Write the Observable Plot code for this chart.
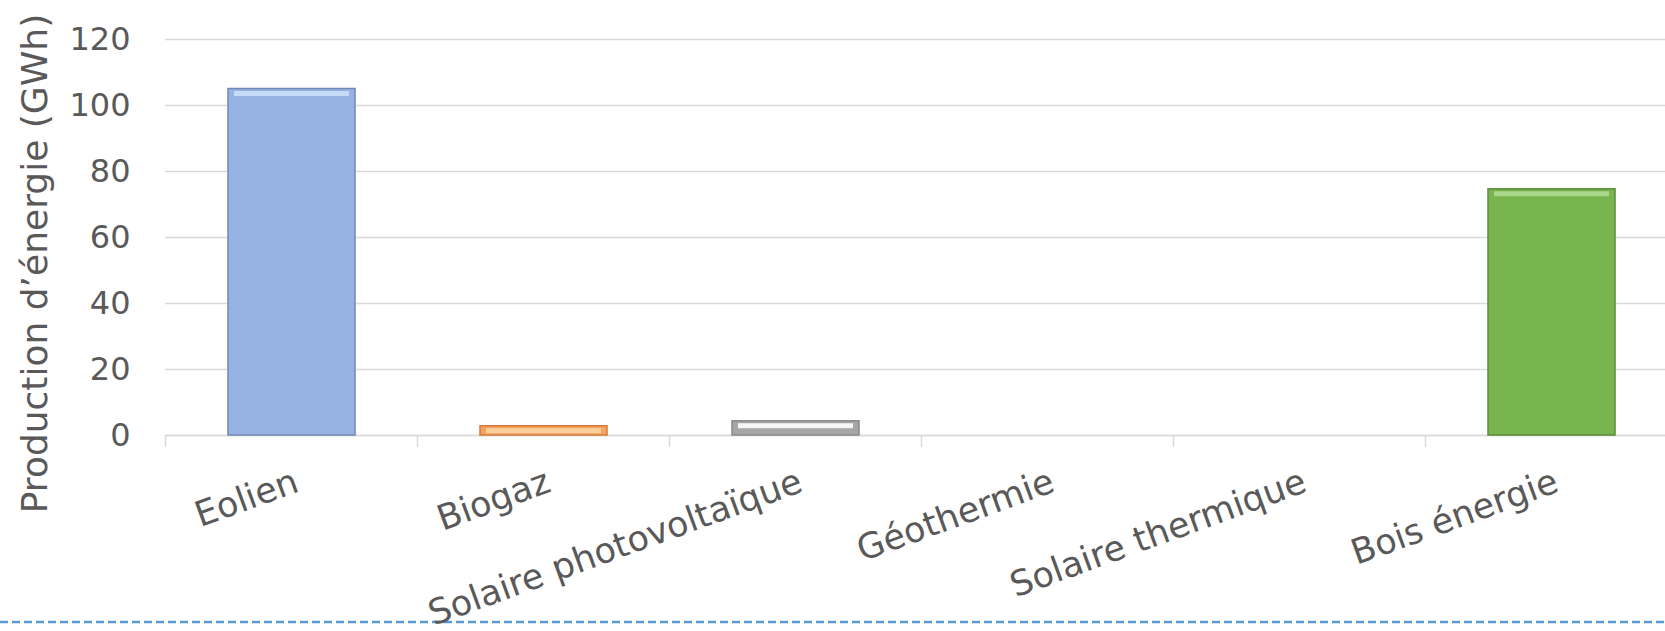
<!DOCTYPE html>
<html>
<head>
<meta charset="utf-8">
<script src="https://cdn.jsdelivr.net/npm/d3@7"></script>
<script src="https://cdn.jsdelivr.net/npm/@observablehq/plot@0.6"></script>
<style>
  html, body { margin: 0; padding: 0; background: #ffffff; }
  #chart svg { display: block; }
</style>
</head>
<body>
<div id="chart"></div>
<script>
// ---- Data ----
const categories = ["Eolien", "Biogaz", "Solaire photovoltaïque", "Géothermie", "Solaire thermique", "Bois énergie"];
const values = [105, 2.8, 4.3, 0, 0, 74.6];
const yTicks = [0, 20, 40, 60, 80, 100, 120];
const yLabel = "Production d’énergie (GWh)";

// ---- Palette (per category) ----
const fillPalette = ["#97b3e6", "#f4a45f", "#a6a6a6", "#ffc000", "#5b9bd5", "#79b54f"];
const strokePalette = ["#7088b4", "#d57a3c", "#8a8a8a", "#c09000", "#4a7fb0", "#5a8a3a"];
const highlightPalette = ["#c5dbf8", "#fbd09b", "#f7f7f7", "#ffe08a", "#a9cdf0", "#aad88a"];

const data = categories.map((c, i) => ({category: c, value: values[i]}));
const idx = d => categories.indexOf(d.category);

// band boundary ticks + decorative dashed line
function bandTicks(index, scales, values, dims) {
  const xs = scales.x, ys = scales.y;
  const g = d3.create("svg:g");
  const step = xs.step ? xs.step() : (dims.width - dims.marginLeft - dims.marginRight) / categories.length;
  const bw = xs.bandwidth ? xs.bandwidth() : step / 2;
  const pad = (step - bw) / 2;
  const y0 = ys(0);
  categories.forEach(c => {
    const bx = xs(c) - pad;
    g.append("line").attr("x1", bx).attr("x2", bx).attr("y1", y0).attr("y2", y0 + 12)
      .attr("stroke", "#d9d9d9").attr("stroke-width", 1.5);
  });
  g.append("line").attr("x1", 0).attr("x2", dims.width)
    .attr("y1", dims.height - 9).attr("y2", dims.height - 9)
    .attr("stroke", "#5b9bd5").attr("stroke-width", 2.5).attr("stroke-dasharray", "8,4");
  return g.node();
}

const chart = Plot.plot({
  width: 1665,
  height: 631,
  marginLeft: 165,
  marginRight: 0,
  marginTop: 39,
  marginBottom: 196,
  style: {fontFamily: "DejaVu Sans", color: "#595959", background: "#ffffff", overflow: "visible"},
  x: {domain: categories, range: [165, 1679], paddingInner: 0.495, paddingOuter: 0.2475, label: null},
  y: {domain: [0, 120], label: null},
  color: {type: "identity"},
  marks: [
    Plot.gridY(yTicks, {stroke: "#d9d9d9", strokeOpacity: 1, strokeWidth: 1.5}),
    Plot.ruleY([0], {stroke: "#d9d9d9", strokeWidth: 1.5}),
    bandTicks,
    Plot.barY(data, {
      x: "category", y: "value",
      fill: d => fillPalette[idx(d)],
      stroke: d => strokePalette[idx(d)],
      strokeWidth: 1.5
    }),
    Plot.tickY(data.filter(d => d.value > 0), {
      x: "category", y: "value",
      stroke: d => highlightPalette[idx(d)],
      strokeWidth: 5, dy: 4.5, insetLeft: 6, insetRight: 6
    }),
    Plot.axisY({ticks: yTicks, tickSize: 0, tickPadding: 35, fontSize: 32, label: null}),
    Plot.axisX({tickSize: 0, tickRotate: -20, textAnchor: "end", lineAnchor: "top", tickPadding: 32, fontSize: 35, label: null}),
    Plot.text([yLabel], {frameAnchor: "left", textAnchor: "middle", lineAnchor: "middle", rotate: -90, dx: -130, dy: 26, fontSize: 36, fill: "#595959"})
  ]
});

document.getElementById("chart").appendChild(chart);
</script>
</body>
</html>
